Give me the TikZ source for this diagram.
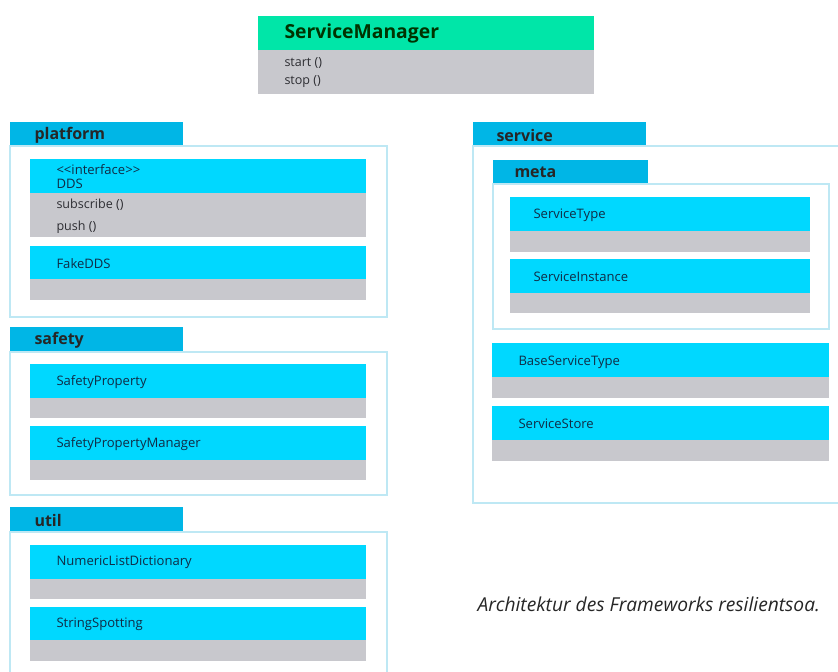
\documentclass[tikz,border=0pt]{standalone}
\usepackage{fontspec}
\setmainfont{Open Sans}

\definecolor{smgreen}{RGB}{0,230,168}
\definecolor{clscyan}{RGB}{0,216,255}
\definecolor{pkgblue}{RGB}{0,182,230}
\definecolor{bodygray}{RGB}{200,200,205}
\definecolor{pkgline}{RGB}{190,232,244}
\definecolor{clstext}{RGB}{16,44,70}
\definecolor{optext}{RGB}{45,45,50}

\tikzset{every picture/.style={line width=0.75pt},
  pkgtab/.style={fill=pkgblue, draw=none},
  pkgbox/.style={draw=pkgline, line width=1pt},
  clshead/.style={fill=clscyan, draw=none},
  clsbody/.style={fill=bodygray, draw=none},
  pkgname/.style={anchor=west, inner sep=0.75pt, text=black!85, font=\fontsize{12}{14}\selectfont\bfseries},
  clsname/.style={anchor=west, inner sep=0.75pt, text=clstext, font=\fontsize{9.8}{11}\selectfont},
  opname/.style={anchor=west, inner sep=0.75pt, text=optext, font=\fontsize{9.4}{11}\selectfont}}

\begin{document}
\begin{tikzpicture}[x=0.75pt,y=0.75pt,yscale=-1,xscale=1]
\useasboundingbox (0,0) rectangle (838,671);

%ServiceManager
\draw [fill=smgreen, draw=none] (258,16) rectangle (594,50);
\draw [clsbody] (258,50) rectangle (594,94);
\draw (283,33) node (smname) [anchor=west][inner sep=0.75pt] [text=black!80!green, font=\fontsize{14.5}{17}\selectfont\bfseries] {ServiceManager};
\draw (283,63) node (smstart) [opname] {start ()};
\draw (283,82) node (smstop) [opname] {stop ()};

%Package: platform
\draw [pkgtab] (10,122) rectangle (183,146);
\draw [pkgbox] (10,146) rectangle (387,317);
\draw (33,135) node (platformlbl) [pkgname] {platform};
\draw [clshead] (30,159) rectangle (366,193);
\draw [clsbody] (30,193) rectangle (366,237);
\draw (55,170) node (ddsstereo) [clsname] {{<}{<}interface{>}{>}};
\draw (55,184) node (dds) [clsname] {DDS};
\draw (55,205) node (ddssub) [opname] {subscribe ()};
\draw (55,227) node (ddspush) [opname] {push ()};
\draw [clshead] (30,246) rectangle (366,279);
\draw [clsbody] (30,279) rectangle (366,300);
\draw (55,264) node (fakedds) [clsname] {FakeDDS};

%Package: safety
\draw [pkgtab] (10,327) rectangle (183,352);
\draw [pkgbox] (10,352) rectangle (387,495);
\draw (33,340) node (safetylbl) [pkgname] {safety};
\draw [clshead] (30,364) rectangle (366,398);
\draw [clsbody] (30,398) rectangle (366,418);
\draw (55,382) node (safetyprop) [clsname] {SafetyProperty};
\draw [clshead] (30,426) rectangle (366,460);
\draw [clsbody] (30,460) rectangle (366,480);
\draw (55,444) node (safetypropmgr) [clsname] {SafetyPropertyManager};

%Package: util
\draw [pkgtab] (10,507) rectangle (183,532);
\draw [pkgbox] (10,532) rectangle (387,690);
\draw (33,520) node (utillbl) [pkgname] {util};
\draw [clshead] (30,545) rectangle (366,579);
\draw [clsbody] (30,579) rectangle (366,599);
\draw (55,562) node (numlistdict) [clsname] {NumericListDictionary};
\draw [clshead] (30,607) rectangle (366,640);
\draw [clsbody] (30,640) rectangle (366,661);
\draw (55,624) node (strspot) [clsname] {StringSpotting};

%Package: service
\draw [pkgtab] (473,122) rectangle (646,146);
\draw [pkgbox] (473,146) rectangle (850,503);
\draw (495,135) node (servicelbl) [pkgname] {service};

%Package: meta
\draw [pkgtab] (493,160) rectangle (648,184);
\draw [pkgbox] (493,184) rectangle (829,329);
\draw (513,172) node (metalbl) [pkgname] {meta};
\draw [clshead] (510,197) rectangle (810,231);
\draw [clsbody] (510,231) rectangle (810,252);
\draw (532,215) node (servicetype) [clsname] {ServiceType};
\draw [clshead] (510,259) rectangle (810,293);
\draw [clsbody] (510,293) rectangle (810,313);
\draw (532,277) node (serviceinst) [clsname] {ServiceInstance};

\draw [clshead] (492,343) rectangle (829,377);
\draw [clsbody] (492,377) rectangle (829,398);
\draw (517,362) node (baseservicetype) [clsname] {BaseServiceType};
\draw [clshead] (492,406) rectangle (829,440);
\draw [clsbody] (492,440) rectangle (829,461);
\draw (517,424) node (servicestore) [clsname] {ServiceStore};

% Text Node
\draw (476,604) node (caption) [anchor=west][inner sep=0.75pt] [text=black!85, font=\fontsize{14.4}{17}\selectfont\itshape] {Architektur des Frameworks resilientsoa.};
\end{tikzpicture}
\end{document}
